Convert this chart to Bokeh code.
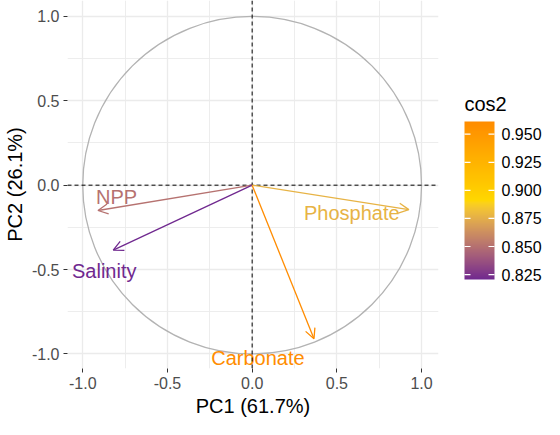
import numpy as np
from bokeh.plotting import figure
from bokeh.layouts import row
from bokeh.models import (Arrow, OpenHead, Span, LinearColorMapper,
                          FixedTicker, NumeralTickFormatter, ColumnDataSource)
from bokeh.core.properties import value
from bokeh.embed import file_html
from bokeh.resources import INLINE

# ---- data ----
variables = ["NPP", "Salinity", "Carbonate", "Phosphate"]
pc1 = [-0.91, -0.82, 0.365, 0.925]
pc2 = [-0.15, -0.385, -0.91, -0.145]
label_x = [-0.80, -0.873, 0.034, 0.588]
label_y = [-0.07, -0.509, -1.021, -0.164]
major_ticks = [-1.0, -0.5, 0.0, 0.5, 1.0]
minor_ticks = [-0.75, -0.25, 0.25, 0.75]
cbar_ticks = [0.825, 0.850, 0.875, 0.900, 0.925, 0.950]
gradient_cols = ["#70298F", "#FFD700", "#FF8C00"]

cos2 = [a * a + b * b for a, b in zip(pc1, pc2)]
lo, hi = min(cos2), max(cos2)

# ---- Lab colour interpolation (like ggplot2 gradientn) ----
def hex2rgb(h):
    h = h.lstrip("#")
    return np.array([int(h[i:i + 2], 16) / 255 for i in (0, 2, 4)])

M = np.array([[0.4124, 0.3576, 0.1805], [0.2126, 0.7152, 0.0722], [0.0193, 0.1192, 0.9505]])
WP = np.array([0.95047, 1.0, 1.08883])

def rgb2lab(c):
    lin = np.where(c <= 0.04045, c / 12.92, ((c + 0.055) / 1.055) ** 2.4)
    xyz = M @ lin / WP
    f = np.where(xyz > 0.008856, np.cbrt(xyz), 7.787 * xyz + 16 / 116)
    return np.array([116 * f[1] - 16, 500 * (f[0] - f[1]), 200 * (f[1] - f[2])])

def lab2hex(lab):
    fy = (lab[0] + 16) / 116
    fx = fy + lab[1] / 500
    fz = fy - lab[2] / 200
    f = np.array([fx, fy, fz])
    xyz = np.where(f ** 3 > 0.008856, f ** 3, (f - 16 / 116) / 7.787) * WP
    lin = np.linalg.solve(M, xyz)
    lin = np.clip(lin, 0, 1)
    c = np.where(lin <= 0.0031308, 12.92 * lin, 1.055 * lin ** (1 / 2.4) - 0.055)
    c = np.clip(np.round(c * 255), 0, 255).astype(int)
    return "#%02x%02x%02x" % tuple(c)

labs = [rgb2lab(hex2rgb(h)) for h in gradient_cols]

def grad(t):
    t = min(max(t, 0.0), 1.0)
    seg = t * (len(labs) - 1)
    i = min(int(seg), len(labs) - 2)
    u = seg - i
    return lab2hex(labs[i] * (1 - u) + labs[i + 1] * u)

colors = [grad((c - lo) / (hi - lo)) for c in cos2]
palette = [grad(i / 255) for i in range(256)]

# ---- main figure ----
FONT = "Liberation Sans"
FRAME_W, FRAME_H = 372, 368
LEFT = 66
W_MAIN, H = 450, 419
TOP, BOTTOM = 0, H - FRAME_H
p = figure(width=W_MAIN, height=H, x_range=(-1.09, 1.10), y_range=(-1.086, 1.094),
           output_backend="svg", toolbar_location=None,
           min_border_left=LEFT, min_border_right=W_MAIN - LEFT - FRAME_W,
           min_border_top=TOP, min_border_bottom=BOTTOM)
p.outline_line_color = None
p.background_fill_color = "white"

ticker = FixedTicker(ticks=major_ticks, minor_ticks=minor_ticks)
for ax in (p.xaxis[0], p.yaxis[0]):
    ax.ticker = ticker
    ax.formatter = NumeralTickFormatter(format="0.0")
    ax.axis_line_color = None
    ax.major_tick_line_color = "#333333"
    ax.major_tick_out = 4
    ax.major_tick_in = 0
    ax.minor_tick_line_color = None
    ax.major_label_text_font = FONT
    ax.major_label_text_font_size = "16px"
    ax.major_label_text_color = "#4D4D4D"
    ax.axis_label_text_font = FONT
    ax.axis_label_text_font_size = "20px"
    ax.axis_label_text_font_style = "normal"
    ax.axis_label_text_color = "black"
    ax.major_label_standoff = 4
    ax.axis_label_standoff = 3
p.xaxis.axis_label = "PC1 (61.7%)"
p.yaxis.axis_label = "PC2 (26.1%)"

for g in (p.xgrid[0], p.ygrid[0]):
    g.ticker = ticker
    g.grid_line_color = "#EBEBEB"
    g.grid_line_width = 1.3
    g.minor_grid_line_color = "#EBEBEB"
    g.minor_grid_line_width = 0.9

# unit circle
p.ellipse(x=[0], y=[0], width=[2], height=[2], fill_color=None,
          line_color="#B3B3B3", line_width=1.3)

# dashed axes through origin
p.add_layout(Span(location=0, dimension="width", line_color="black", line_dash="4 3", line_width=1))
p.add_layout(Span(location=0, dimension="height", line_color="black", line_dash="4 3", line_width=1))

# arrows
for xe, ye, c in zip(pc1, pc2, colors):
    p.add_layout(Arrow(x_start=0, y_start=0, x_end=xe, y_end=ye, line_color=c, line_width=1.3,
                       end=OpenHead(size=10, line_color=c, line_width=1.3)))

src = ColumnDataSource(dict(x=label_x, y=label_y, t=variables, c=colors))
p.text(x="x", y="y", text="t", text_color="c", source=src, text_align="center",
       text_baseline="middle", text_font=value(FONT), text_font_size="20px")

# ---- colour-bar legend as a small figure (x/y ranges in pixel-like units) ----
W_LEG = 544 - W_MAIN
BAR_X, BAR_W, BAR_H = 14, 30, 158
BAR_FROM_BOTTOM = 89            # bar bottom, px above the frame bottom
per_px = (hi - lo) / BAR_H
y0 = lo - BAR_FROM_BOTTOM * per_px
mapper = LinearColorMapper(palette=palette, low=lo, high=hi)
leg = figure(width=W_LEG, height=H, x_range=(0, W_LEG), y_range=(y0, y0 + FRAME_H * per_px),
             output_backend="svg", toolbar_location=None, x_axis_type=None, y_axis_type=None,
             min_border_left=0, min_border_right=0, min_border_top=TOP, min_border_bottom=BOTTOM)
leg.outline_line_color = None
leg.grid.visible = False
leg.image(image=[np.linspace(lo, hi, 256).reshape(-1, 1)], x=BAR_X, y=lo, dw=BAR_W, dh=hi - lo,
          color_mapper=mapper)
leg.segment(x0=BAR_X, x1=BAR_X + 6, y0=cbar_ticks, y1=cbar_ticks, line_color="white", line_width=1.2)
leg.segment(x0=BAR_X + BAR_W - 6, x1=BAR_X + BAR_W, y0=cbar_ticks, y1=cbar_ticks,
            line_color="white", line_width=1.2)
leg.text(x=[BAR_X + BAR_W + 7] * len(cbar_ticks), y=cbar_ticks,
         text=["%.3f" % t for t in cbar_ticks], text_font=value(FONT), text_font_size="16px",
         text_color="black", text_align="left", text_baseline="middle")
leg.text(x=[BAR_X], y=[hi + 18 * per_px], text=["cos2"], text_font=value(FONT),
         text_font_size="20px", text_color="black", text_align="left", text_baseline="middle")

layout = row(p, leg)
open("out.html", "w").write(file_html(layout, INLINE))
